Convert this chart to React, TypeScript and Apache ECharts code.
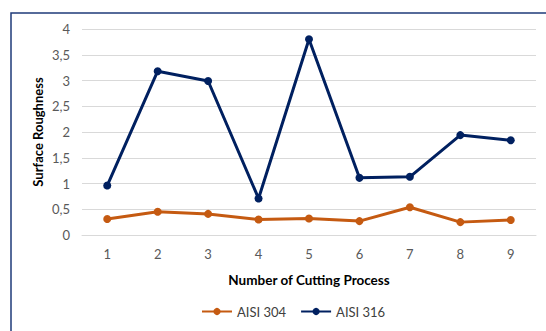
import React, { useEffect, useRef } from "react";
import * as echarts from "echarts";

const categories = ["1", "2", "3", "4", "5", "6", "7", "8", "9"];
const aisi304 = [0.31, 0.45, 0.41, 0.3, 0.32, 0.27, 0.54, 0.25, 0.29];
const aisi316 = [0.96, 3.18, 2.99, 0.71, 3.8, 1.11, 1.13, 1.94, 1.84];
const seriesNames = ["AISI 304", "AISI 316"];
const FONT = "Lato";

export default function App() {
  const ref = useRef<HTMLDivElement>(null);
  useEffect(() => {
    if (!ref.current) return;
    const chart = echarts.init(ref.current, undefined, { renderer: "svg" });
    chart.setOption({
      animation: false,
      textStyle: { fontFamily: FONT },
      graphic: [
        {
          type: "rect",
          shape: { x: 11, y: 13, width: 600, height: 400 },
          style: { fill: "none", stroke: "#1F3B7A", lineWidth: 1.5 },
          silent: true,
        },
      ],
      grid: { left: 82, right: 10, top: 29, bottom: 96 },
      legend: {
        bottom: 8,
        left: 196,
        itemWidth: 30,
        itemHeight: 9,
        itemGap: 14,
        textStyle: { fontFamily: FONT, fontSize: 13, color: "#404040" },
        data: seriesNames,
      },
      xAxis: {
        type: "category",
        data: categories,
        boundaryGap: true,
        name: "Number of Cutting Process",
        nameLocation: "middle",
        nameGap: 38,
        nameTextStyle: { fontFamily: FONT, fontWeight: "bold", fontSize: 13.5, color: "#000" },
        axisLine: { show: true, lineStyle: { color: "#d9d9d9" } },
        axisTick: { show: false },
        axisLabel: { fontFamily: FONT, fontSize: 13, color: "#595959", margin: 12 },
      },
      yAxis: {
        type: "value",
        min: 0,
        max: 4,
        interval: 0.5,
        name: "Surface Roughness",
        nameLocation: "middle",
        nameGap: 38,
        nameMoveOverlap: false,
        nameTextStyle: { fontFamily: FONT, fontWeight: "bold", fontSize: 13, color: "#000" },
        axisLine: { show: false },
        axisTick: { show: false },
        splitLine: { lineStyle: { color: "#d9d9d9", width: 1 } },
        axisLabel: {
          fontFamily: FONT,
          fontSize: 13,
          color: "#595959",
          margin: 12,
          formatter: (v: number) => String(v).replace(".", ","),
        },
      },
      series: [
        {
          name: seriesNames[0],
          type: "line",
          data: aisi304,
          symbol: "circle",
          symbolSize: 8,
          lineStyle: { color: "#C55A11", width: 3 },
          itemStyle: { color: "#C55A11" },
        },
        {
          name: seriesNames[1],
          type: "line",
          data: aisi316,
          symbol: "circle",
          symbolSize: 8,
          lineStyle: { color: "#002060", width: 3 },
          itemStyle: { color: "#002060" },
        },
      ],
    });
    return () => chart.dispose();
  }, []);
  return (
    <div
      ref={ref}
      style={{ position: "absolute", left: 0, top: 0, width: 546, height: 331, background: "#fff" }}
    />
  );
}
